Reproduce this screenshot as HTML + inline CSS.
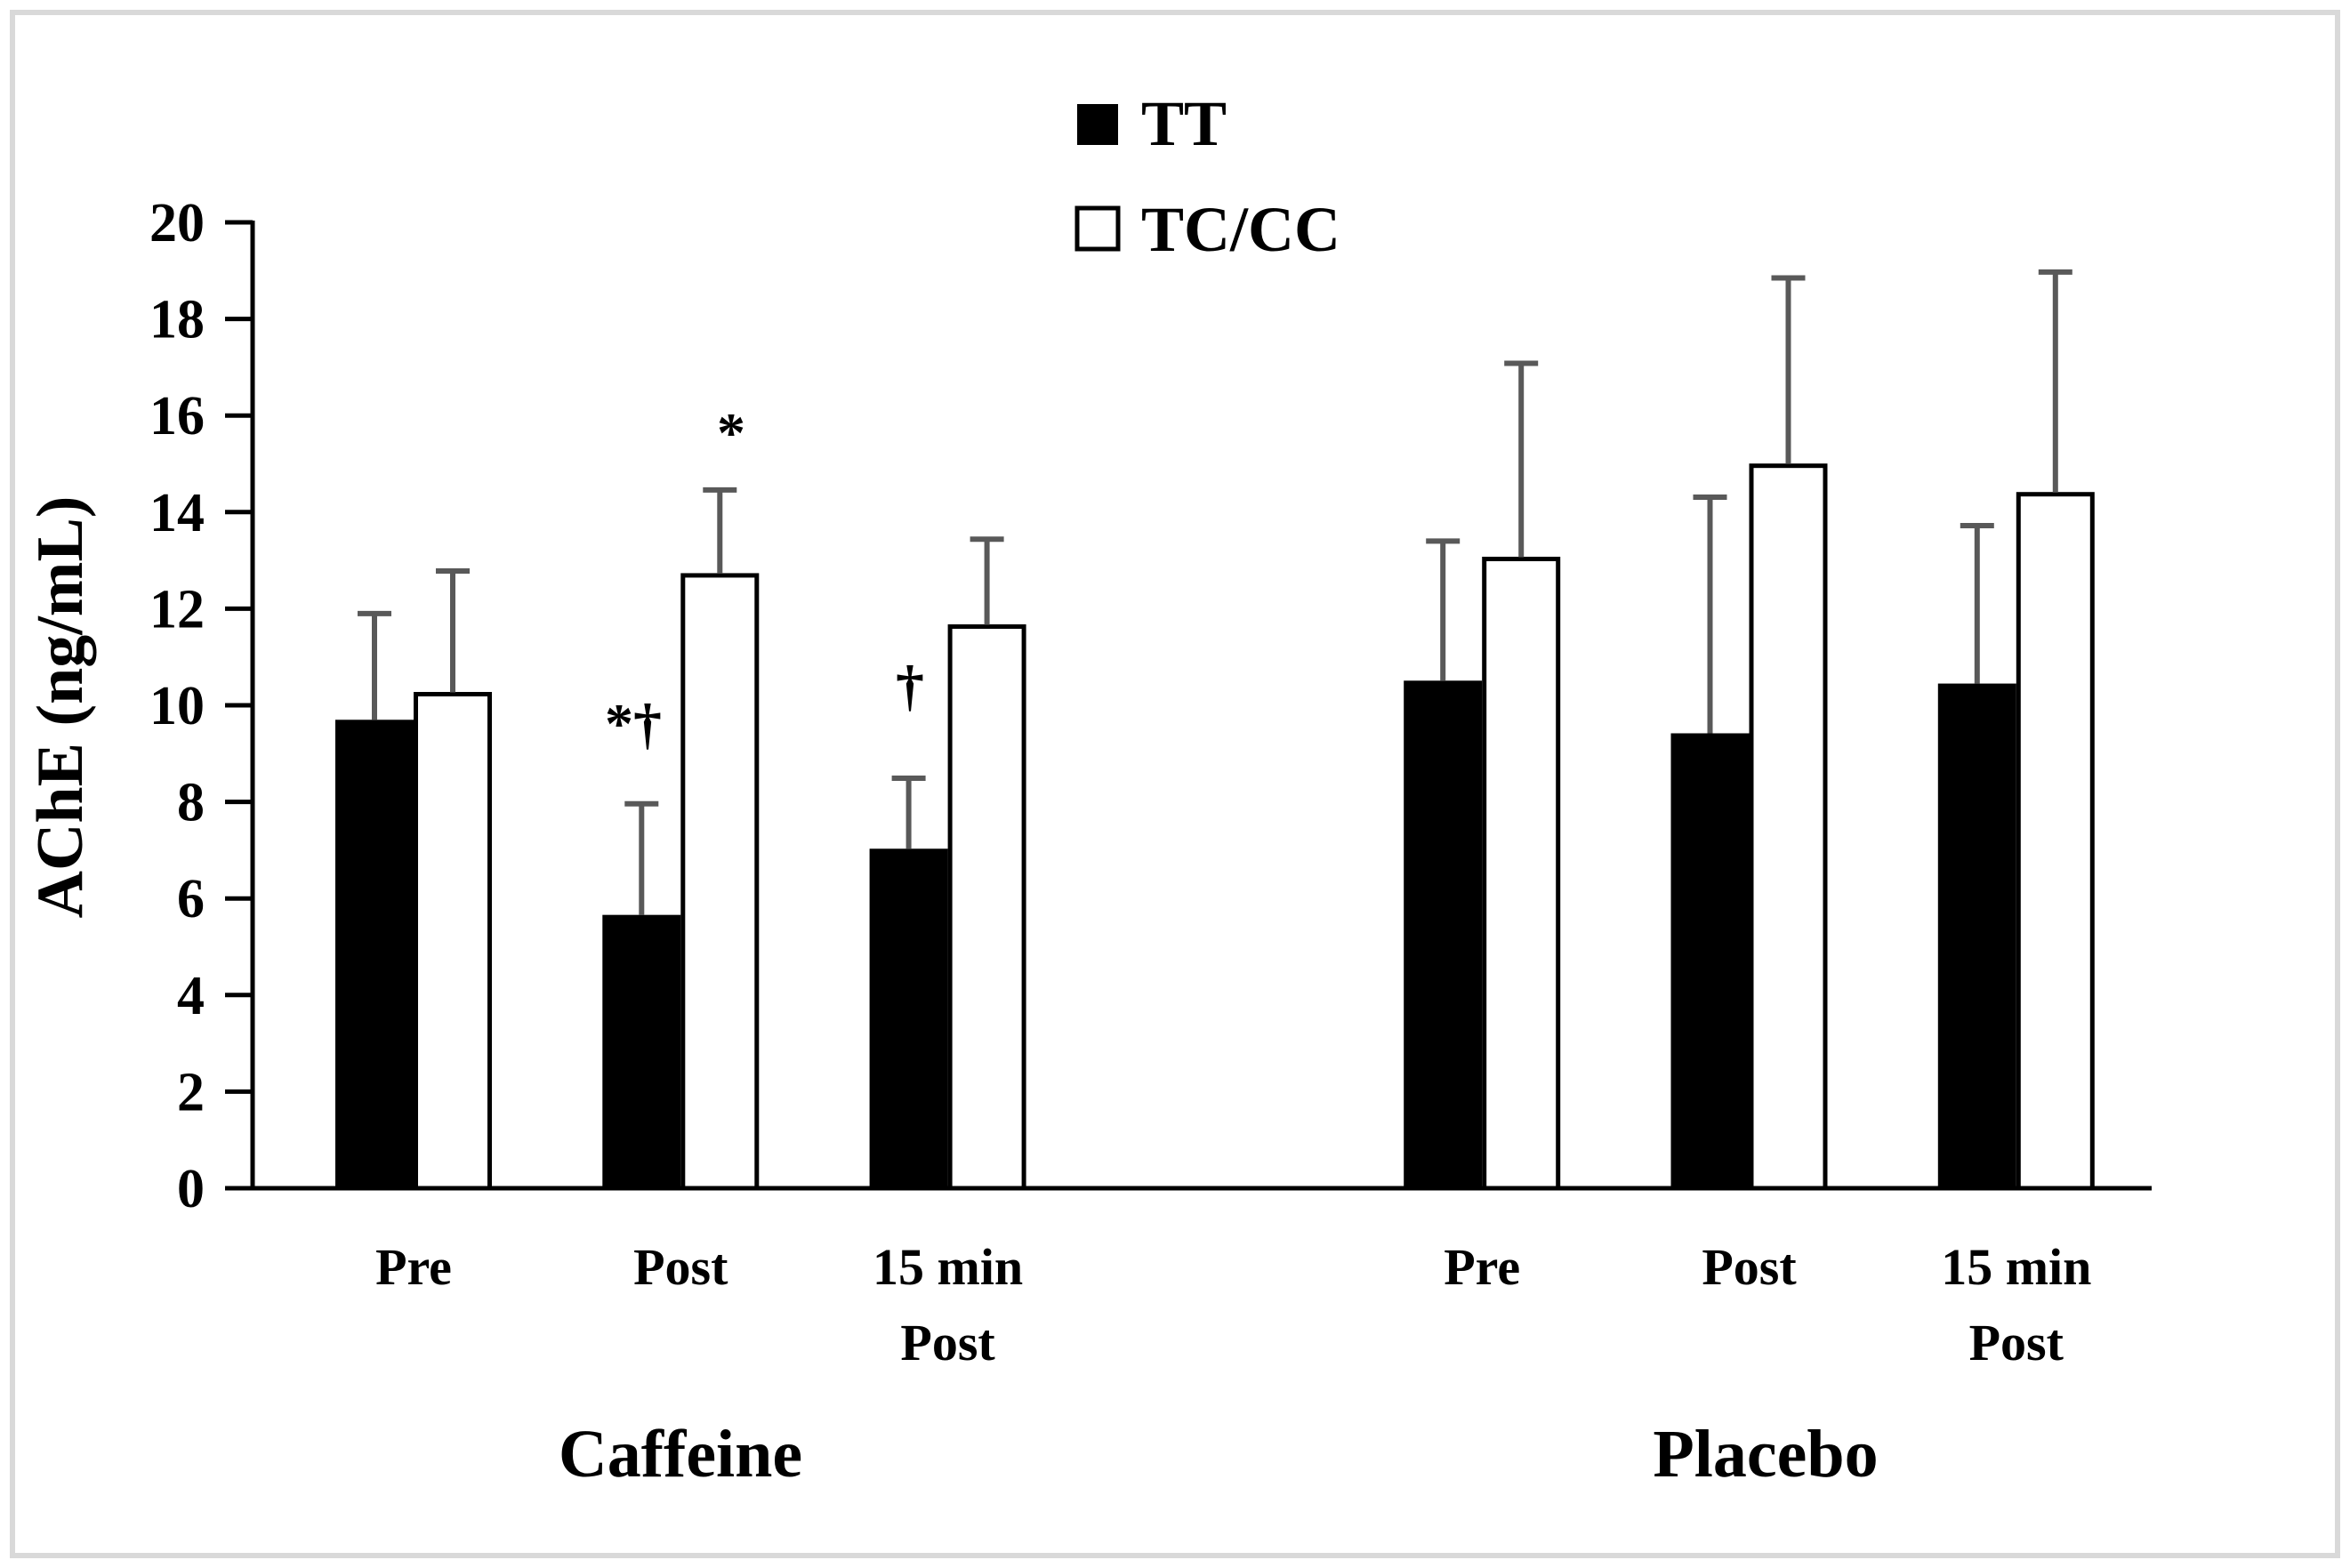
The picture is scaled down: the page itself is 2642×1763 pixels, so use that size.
<!DOCTYPE html>
<html><head><meta charset="utf-8"><style>
html,body{margin:0;padding:0;background:#fff}
svg{display:block}
text{font-family:"Liberation Serif",serif;font-weight:bold;fill:#000}
</style></head><body>
<svg id="chart" width="2642" height="1763" viewBox="0 0 2642 1763" xmlns="http://www.w3.org/2000/svg">
<rect x="14" y="14" width="2614" height="1735" fill="none" stroke="#d9d9d9" stroke-width="6"/>
<g id="axes"></g>
<g id="bars"></g>
<g id="labels"></g>
<rect x="1211" y="117" width="46" height="46" fill="#000"/>
<text x="1283" y="163" font-size="72">TT</text>
<rect x="1211" y="234" width="46" height="46" fill="#fff" stroke="#000" stroke-width="5"/>
<text x="1283" y="282" font-size="72">TC/CC</text>
<text transform="translate(92,795) rotate(-90)" text-anchor="middle" font-size="74">AChE (ng/mL)</text>
<text x="765" y="1660" text-anchor="middle" font-size="76">Caffeine</text>
<text x="1985" y="1660" text-anchor="middle" font-size="76">Placebo</text>
<text x="712" y="835" text-anchor="middle" font-size="64">*†</text>
<text x="822" y="508" text-anchor="middle" font-size="64">*</text>
<text x="1023" y="792" text-anchor="middle" font-size="64">†</text>
</svg>
<script>
const categories = ["Pre","Post","15 min|Post","Pre","Post","15 min|Post"];
const slotIndex = [0,1,2,4,5,6];
const ttValues = [9.7,5.66,7.03,10.51,9.42,10.45];
const ttErrTop = [11.9,7.96,8.49,13.4,14.31,13.72];
const tcValues = [10.23,12.69,11.63,13.03,14.96,14.37];
const tcErrTop = [12.78,14.46,13.44,17.08,18.85,18.97];
const yTicks = [0,2,4,6,8,10,12,14,16,18,20];

const NS="http://www.w3.org/2000/svg";
const X0=284, X1=2419, Y0=1336, Y20=250;
function y(v){return Y0-(v/20)*(Y0-Y20);}
function cx(i){return 465+300.3*slotIndex[i];}
const BW=88;
function mk(tag,attrs,parent){const e=document.createElementNS(NS,tag);for(const k in attrs)e.setAttribute(k,attrs[k]);document.getElementById(parent).appendChild(e);return e;}

yTicks.forEach(t=>{
  const l=mk('line',{x1:253,x2:X0,y1:y(t),y2:y(t),stroke:'#000','stroke-width':5},'axes');
  
  
  const tx=mk('text',{x:230,y:y(t)+21,'text-anchor':'end','font-size':62},'axes');
  tx.textContent=t;
  
  
});

categories.forEach((c,i)=>{
  const c0=cx(i);
  const tb=mk('rect',{x:c0-BW,y:y(ttValues[i]),width:BW,height:Y0-y(ttValues[i]),fill:'#000'},'bars');
  
  
  const te=mk('path',{d:`M${c0-BW/2} ${y(ttValues[i])}V${y(ttErrTop[i])}M${c0-BW/2-19} ${y(ttErrTop[i])}H${c0-BW/2+19}`,stroke:'#595959','stroke-width':6,fill:'none'},'bars');
  
  
  const cb=mk('rect',{x:c0+2.5,y:y(tcValues[i]),width:BW-5,height:Y0-y(tcValues[i]),fill:'#fff',stroke:'#000','stroke-width':5},'bars');
  
  
  const ce=mk('path',{d:`M${c0+BW/2} ${y(tcValues[i])-2}V${y(tcErrTop[i])}M${c0+BW/2-19} ${y(tcErrTop[i])}H${c0+BW/2+19}`,stroke:'#595959','stroke-width':6,fill:'none'},'bars');
  
  
  c.split('|').forEach((s,j)=>{
    const t=mk('text',{x:c0,y:1444+j*85,'text-anchor':'middle','font-size':58},'labels');
    t.textContent=s;
    
    
  });
});
const ya=mk('line',{x1:X0,x2:X0,y1:Y20-2,y2:Y0+2,stroke:'#000','stroke-width':5},'axes');


const xa=mk('line',{x1:253,x2:X1,y1:Y0,y2:Y0,stroke:'#000','stroke-width':5},'axes');


</script>
</body></html>
